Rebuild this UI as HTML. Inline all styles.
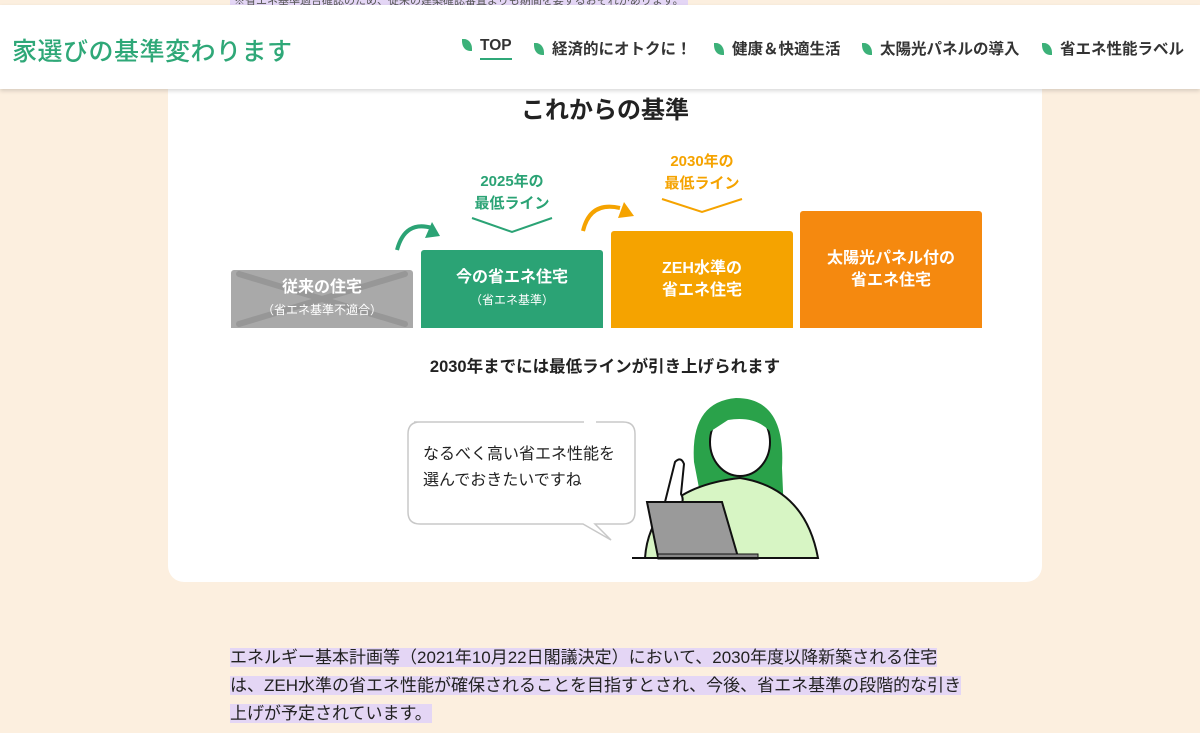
<!DOCTYPE html>
<html><head><meta charset="utf-8"><style>
*{margin:0;padding:0;box-sizing:border-box}
body{width:1200px;height:733px;overflow:hidden;background:#fcefdf;font-family:"Liberation Sans","Noto Sans CJK JP",sans-serif;position:relative}
.a{position:absolute}
.hl{background:#e4d6f5}
.hdr{left:0;top:5px;width:1200px;height:84px;background:#fff;box-shadow:0 2px 4px rgba(0,0,0,.15);z-index:2}
.logo{left:12px;font-size:25px;color:#2fa878;font-weight:500;letter-spacing:0.5px}
.nav{font-size:15.5px;font-weight:bold;color:#333;white-space:nowrap}
.nav i{display:inline-block;width:10px;height:12px;background:#3cb179;border-radius:0 80% 0 80%;margin-right:8px;vertical-align:-1px}
.card{left:168px;top:60px;width:874px;height:522px;background:#fff;border-radius:16px}
.box{color:#fff;font-weight:bold;text-align:center;display:flex;flex-direction:column;justify-content:center;font-size:16px;line-height:22px;border-radius:3px 3px 0 0}
.box small{font-size:12px;font-weight:normal}
.lbl{font-weight:bold;font-size:15px;text-align:center;line-height:22px}
</style></head><body>
<div class="a hl" style="left:230px;top:-8px;font-size:11px;color:#555;padding:0 4px">※省エネ基準適合確認のため、従来の建築確認審査よりも期間を要するおそれがあります。</div>
<div class="a card"></div>
<div class="a hdr">
 <div class="a logo" style="top:27px">家選びの基準変わります</div>
 <div class="a nav" style="left:462px;top:32px"><i></i><span style="border-bottom:2px solid #2fa878;padding-bottom:4px">TOP</span></div>
 <div class="a nav" style="left:534px;top:32px"><i></i>経済的にオトクに！</div>
 <div class="a nav" style="left:714px;top:32px"><i></i>健康＆快適生活</div>
 <div class="a nav" style="left:862px;top:32px"><i></i>太陽光パネルの導入</div>
 <div class="a nav" style="left:1042px;top:32px"><i></i>省エネ性能ラベル</div>
</div>
<div class="a" style="left:168px;top:90px;width:874px;text-align:center;font-size:24px;font-weight:bold;color:#222">これからの基準</div>

<div class="a box" style="left:231px;top:270px;width:182px;height:58px;background:#a9a9a9;overflow:hidden">
 <svg class="a" style="left:0;top:0" width="182" height="58"><line x1="8" y1="4" x2="174" y2="54" stroke="#979797" stroke-width="6" stroke-linecap="round"/><line x1="174" y1="4" x2="8" y2="54" stroke="#979797" stroke-width="6" stroke-linecap="round"/></svg>
 <div style="position:relative">従来の住宅<br><small>（省エネ基準不適合）</small></div></div>
<div class="a box" style="left:421px;top:250px;width:182px;height:78px;background:#2ba375">今の省エネ住宅<small>（省エネ基準）</small></div>
<div class="a box" style="left:611px;top:231px;width:182px;height:97px;background:#f5a300">ZEH水準の<br>省エネ住宅</div>
<div class="a box" style="left:800px;top:211px;width:182px;height:117px;background:#f5890f">太陽光パネル付の<br>省エネ住宅</div>

<div class="a lbl" style="left:452px;top:171px;width:120px;color:#2ba375">2025年の<br>最低ライン</div>
<div class="a lbl" style="left:642px;top:151px;width:120px;color:#f5a300">2030年の<br>最低ライン</div>
<svg class="a" style="left:0;top:0" width="1200" height="340">
 <polyline points="472,218 512,232 552,218" fill="none" stroke="#2ba375" stroke-width="2"/>
 <polyline points="662,199 702,212 742,199" fill="none" stroke="#f5a300" stroke-width="2"/>
 <path d="M397,250 Q405,220 432,228" fill="none" stroke="#2ba375" stroke-width="4"/>
 <polygon points="440,236 425,238 432,222" fill="#2ba375"/>
 <path d="M583,231 Q590,201 620,208" fill="none" stroke="#f5a300" stroke-width="4"/>
 <polygon points="634,216 618,218 624,202" fill="#f5a300"/>
</svg>
<div class="a" style="left:168px;top:353px;width:874px;text-align:center;font-size:16.5px;font-weight:bold;color:#222">2030年までには最低ラインが引き上げられます</div>

<svg class="a" style="left:400px;top:390px" width="420" height="180">
 <path d="M14,32 h170 M196,32 h27 q12,0 12,12 v78 q0,12 -12,12 h-28 l16,16 l-28,-16 h-163 q-12,0 -12,-12 v-78 q0,-12 12,-12" fill="#fff" stroke="#c8c8c8" stroke-width="1.5"/>
 <path d="M294,72 q-4,-60 42,-64 q50,0 46,70 l2,46 l-80,0 z" fill="#2aa24a"/>
 <ellipse cx="340" cy="52" rx="30" ry="34" fill="#fff" stroke="#111" stroke-width="2"/>
 <path d="M305,45 q5,-35 40,-30 q25,5 28,30 q-15,-20 -45,-15 z" fill="#2aa24a"/>
 <path d="M245,168 q5,-70 95,-80 q65,10 78,80 z" fill="#d7f5c4" stroke="#111" stroke-width="2"/>
 <path d="M265,112 l10,-40 q6,-6 9,2 l-3,30 q5,8 -5,18 z" fill="#fff" stroke="#111" stroke-width="2"/>
 <path d="M247,112 h75 l16,55 h-80 z" fill="#9a9a9a" stroke="#111" stroke-width="2"/>
 <rect x="258" y="164" width="100" height="5" fill="#888" stroke="#111"/>
 <line x1="232" y1="168" x2="405" y2="168" stroke="#111" stroke-width="2"/>
</svg>
<div class="a" style="left:423px;top:442px;font-size:16px;line-height:26px;color:#222">なるべく高い省エネ性能を<br>選んでおきたいですね</div>

<div class="a" style="left:230px;top:644px;width:800px;font-size:17px;line-height:28px;color:#222;white-space:nowrap"><span class="hl">エネルギー基本計画等（2021年10月22日閣議決定）において、2030年度以降新築される住宅</span><br><span class="hl">は、ZEH水準の省エネ性能が確保されることを目指すとされ、今後、省エネ基準の段階的な引き</span><br><span class="hl">上げが予定されています。 </span></div>
</body></html>
